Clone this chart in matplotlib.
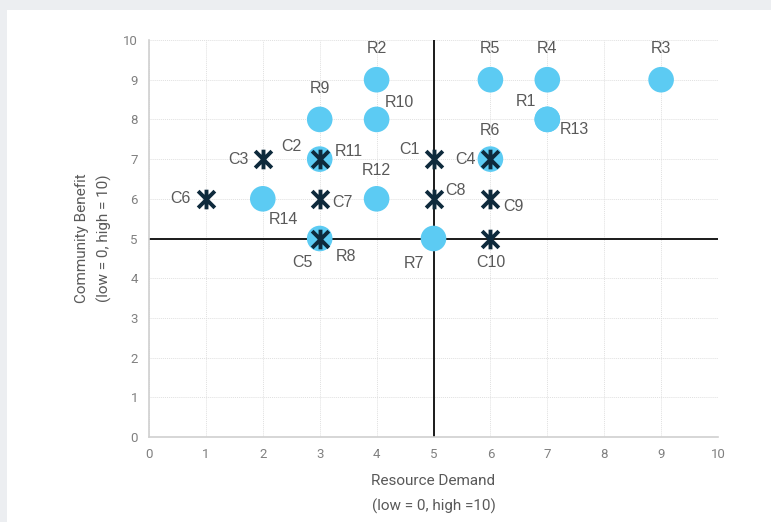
import matplotlib.pyplot as plt
from matplotlib.path import Path
from matplotlib.patches import Rectangle
from matplotlib import font_manager

# resources (circles) and community projects (crosses)
r_names = ["R1", "R2", "R3", "R4", "R5", "R6", "R7", "R8", "R9", "R10", "R11", "R12", "R13", "R14"]
r_x = [7, 4, 9, 7, 6, 6, 5, 3, 3, 4, 3, 4, 7, 2]
r_y = [8, 9, 9, 9, 9, 7, 5, 5, 8, 8, 7, 6, 8, 6]

c_names = ["C1", "C2", "C3", "C4", "C5", "C6", "C7", "C8", "C9", "C10"]
c_x = [5, 3, 2, 6, 3, 1, 3, 5, 6, 6]
c_y = [7, 7, 7, 7, 5, 6, 6, 6, 6, 5]

# label offsets in pixels (dx, dy)
r_off = [(-21, 18), (0, 31), (0, 31), (0, 31), (0, 31), (0, 29), (-20, -25), (26, -18),
         (0, 31), (23, 17), (29, 8), (0, 28), (27, -10), (21, -21)]
c_off = [(-24, 10), (-28, 13), (-24, 0), (-25, 0), (-17, -24), (-25, 0), (23, -4),
         (22, 8), (23, -8), (0, -24)]

ticks = list(range(11))

names = {f.name for f in font_manager.fontManager.ttflist}
narrow = "Liberation Sans Narrow" if "Liberation Sans Narrow" in names else "Roboto"
plt.rcParams['font.family'] = [narrow, 'DejaVu Sans']

# star marker: an X with a vertical bar through it
star = Path([(-0.85, -0.85), (0.85, 0.85), (-0.85, 0.85), (0.85, -0.85), (0, -1), (0, 1)],
            [Path.MOVETO, Path.LINETO, Path.MOVETO, Path.LINETO, Path.MOVETO, Path.LINETO])

fig = plt.figure(figsize=(7.71, 5.22), dpi=100, facecolor="#eceef1")
fig.patches.append(Rectangle((7 / 771, 0), 1, 1 - 10 / 522, transform=fig.transFigure,
                             facecolor="white", edgecolor="none", zorder=-10))
ax = fig.add_axes([149 / 771, 1 - 437 / 522, 569 / 771, 397 / 522])
ax.set_facecolor("white")

ax.set_xlim(0, 10)
ax.set_ylim(0, 10)
ax.set_xticks(ticks)
ax.set_yticks(ticks)
ax.grid(True, color="#e0e0e0", linestyle=(0, (1, 1)), linewidth=0.7)
ax.set_axisbelow(True)
for s in ["top", "right"]:
    ax.spines[s].set_visible(False)
for s in ["left", "bottom"]:
    ax.spines[s].set_color("#d0d0d0")
    ax.spines[s].set_linewidth(1.2)
ax.tick_params(length=0, colors="#808080", labelsize=9.5, pad=8)

ax.axvline(5, color="#1a1a1a", linewidth=1.4, zorder=2)
ax.axhline(5, color="#1a1a1a", linewidth=1.4, zorder=2)

ax.scatter(r_x, r_y, s=340, color="#5ccbf3", edgecolors="none", zorder=3, clip_on=False)
ax.scatter(c_x, c_y, s=200, marker=star, color="#0e2a3c", linewidths=2.8, zorder=4)

lab_font = dict(fontsize=11.5, color="#595959", ha="center", va="center",
                family=["Liberation Sans", "DejaVu Sans"])
for n, x, y, (dx, dy) in zip(r_names, r_x, r_y, r_off):
    ax.annotate(n, (x, y), xytext=(dx, dy), textcoords="offset pixels", zorder=5, **lab_font)
for n, x, y, (dx, dy) in zip(c_names, c_x, c_y, c_off):
    ax.annotate(n, (x, y), xytext=(dx, dy), textcoords="offset pixels", zorder=5, **lab_font)

ax.set_xlabel("Resource Demand\n(low = 0, high =10)", fontsize=11, color="#595959",
              labelpad=9, linespacing=1.9)
ax.set_ylabel("Community Benefit\n(low = 0, high = 10)", fontsize=11, color="#595959",
              labelpad=8, linespacing=1.6)

fig.savefig("out.png", dpi=100, facecolor=fig.get_facecolor())
